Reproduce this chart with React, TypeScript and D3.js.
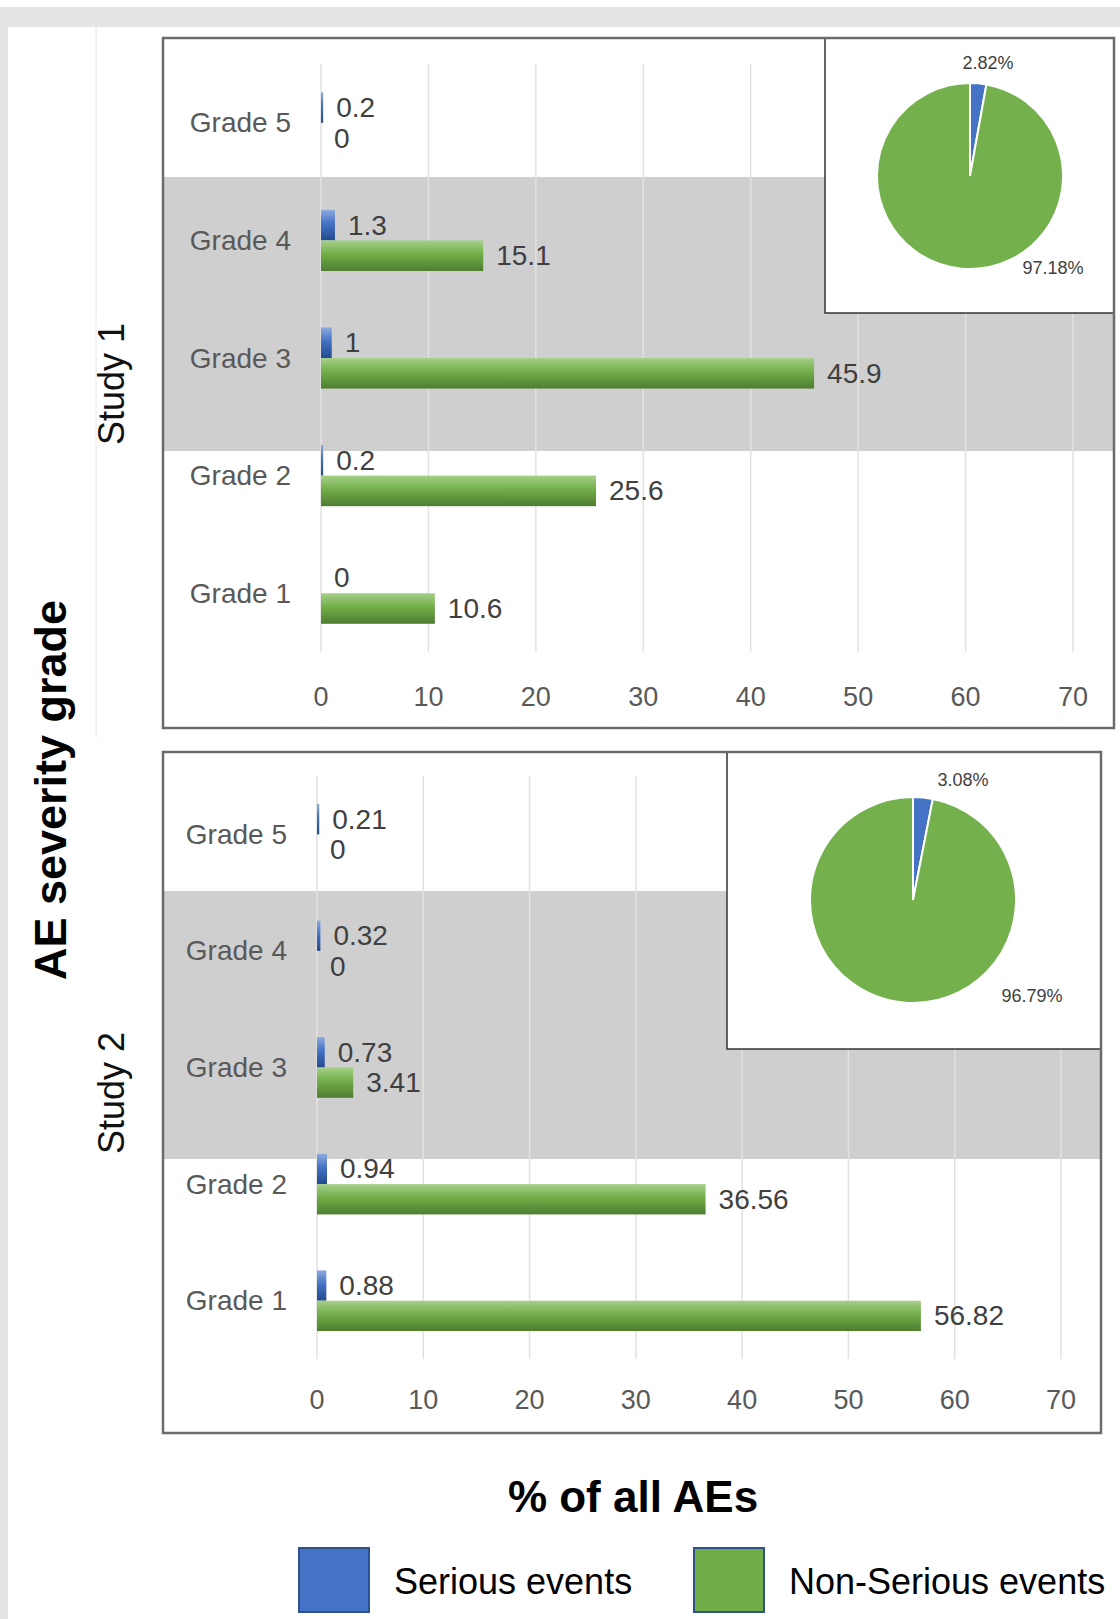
import React from 'react';
import * as d3 from 'd3';

// values
const grades = ['Grade 5', 'Grade 4', 'Grade 3', 'Grade 2', 'Grade 1'];
const seriesNames = ['Serious events', 'Non-Serious events'];
const study1Serious = [0.2, 1.3, 1, 0.2, 0];
const study1NonSerious = [0, 15.1, 45.9, 25.6, 10.6];
const study2Serious = [0.21, 0.32, 0.73, 0.94, 0.88];
const study2NonSerious = [0, 0, 3.41, 36.56, 56.82];
const study1Pie = [2.82, 97.18];
const study2Pie = [3.08, 96.79];
const xTicks = [0, 10, 20, 30, 40, 50, 60, 70];

const W = 1120;
const H = 1619;
const FONT = "'Liberation Sans', Arial, sans-serif";
const BLUE = '#4472c4';
const GREEN = '#70ad47';

interface PanelLayout {
	name: string;
	serious: number[];
	nonSerious: number[];
	pie: number[];
	box: { x: number; y: number; w: number; h: number };
	band: [number, number];
	inset: { x: number; y: number; w: number; h: number };
	xRange: [number, number];
	yRange: [number, number];
	tickY: number;
	pieAt: { cx: number; cy: number; r: number };
	pieLabels: [number, number][];
	studyY: number;
}

const panels: PanelLayout[] = [
	{
		name: 'Study 1',
		serious: study1Serious,
		nonSerious: study1NonSerious,
		pie: study1Pie,
		box: { x: 163, y: 38, w: 951, h: 690 },
		band: [177, 451],
		inset: { x: 825, y: 38, w: 289, h: 275 },
		xRange: [321, 1073],
		yRange: [64, 652],
		tickY: 697,
		pieAt: { cx: 970, cy: 176, r: 93 },
		pieLabels: [[18, -113], [83, 92]],
		studyY: 384,
	},
	{
		name: 'Study 2',
		serious: study2Serious,
		nonSerious: study2NonSerious,
		pie: study2Pie,
		box: { x: 163, y: 752, w: 938, h: 681 },
		band: [891, 1159],
		inset: { x: 727, y: 752, w: 374, h: 297 },
		xRange: [317, 1061],
		yRange: [776, 1359],
		tickY: 1400,
		pieAt: { cx: 913, cy: 900, r: 103 },
		pieLabels: [[50, -120], [119, 96]],
		studyY: 1093,
	},
];

const Panel: React.FC<{ p: PanelLayout }> = ({ p }) => {
	const x = d3.scaleLinear().domain([0, 70]).range(p.xRange);
	const y = d3.scaleBand().domain(grades).range(p.yRange);
	const pair = y.step() * 0.52;

	const pieGen = d3.pie<number>().sort(null).value(d => d);
	const arcs = pieGen(p.pie);
	const arc = d3.arc<d3.PieArcDatum<number>>().innerRadius(0).outerRadius(p.pieAt.r);

	return (
		<g>
			<rect x={p.box.x} y={p.box.y} width={p.box.w} height={p.box.h} fill="#fff" />
			<rect x={p.box.x} y={p.band[0]} width={p.box.w} height={p.band[1] - p.band[0]} fill="#d0cfd0" />
			{xTicks.map(t => (
				<line key={t} x1={x(t)} x2={x(t)} y1={p.yRange[0]} y2={p.yRange[1]} stroke="#e2e2e2" strokeWidth={1.5} />
			))}
			{xTicks.map(t => (
				<text key={'t' + t} x={x(t)} y={p.tickY} textAnchor="middle" dominantBaseline="central"
					fontSize={27} fill="#595959">{t}</text>
			))}
			{grades.map((g, i) => {
				const c = (y(g) as number) + y.bandwidth() / 2;
				const inner = d3.scaleBand().domain(seriesNames).range([c - pair / 2, c + pair / 2]);
				const vals = [p.serious[i], p.nonSerious[i]];
				return (
					<g key={g}>
						<text x={p.xRange[0] - 30} y={c} textAnchor="end" dominantBaseline="central"
							fontSize={28} fill="#595959">{g}</text>
						{vals.map((v, j) => {
							const yy = inner(seriesNames[j]) as number;
							const bh = inner.bandwidth();
							return (
								<g key={j}>
									{v > 0 && (
										<rect x={x(0)} y={yy} width={x(v) - x(0)} height={bh}
											fill={j === 0 ? 'url(#gBlue)' : 'url(#gGreen)'} />
									)}
									<text x={x(v) + 13} y={yy + bh / 2} dominantBaseline="central"
										fontSize={28} fill="#404040">{String(v)}</text>
								</g>
							);
						})}
					</g>
				);
			})}
			<rect x={p.inset.x} y={p.inset.y} width={p.inset.w} height={p.inset.h} fill="#fff"
				stroke="#333" strokeWidth={1.5} />
			<g transform={`translate(${p.pieAt.cx},${p.pieAt.cy})`}>
				{arcs.map((a, k) => (
					<path key={k} d={arc(a) as string} fill={k === 0 ? BLUE : '#74b04b'} stroke="#fff" strokeWidth={2} />
				))}
				{arcs.map((a, k) => (
					<text key={'l' + k} x={p.pieLabels[k][0]} y={p.pieLabels[k][1]} textAnchor="middle"
						dominantBaseline="central" fontSize={18} fill="#404040">{a.data.toFixed(2) + '%'}</text>
				))}
			</g>
			<rect x={p.box.x} y={p.box.y} width={p.box.w} height={p.box.h} fill="none"
				stroke="#6b6b6b" strokeWidth={2.5} />
			<text transform={`translate(111,${p.studyY}) rotate(-90)`} textAnchor="middle"
				dominantBaseline="central" fontSize={36} fill="#111">{p.name}</text>
		</g>
	);
};

export default function App() {
	return (
		<div style={{ position: 'absolute', left: 0, top: 0 }}>
			<svg width={W} height={H} style={{ display: 'block', fontFamily: FONT }}>
				<defs>
					<linearGradient id="gBlue" x1="0" y1="0" x2="0" y2="1">
						<stop offset="0%" stopColor="#8eaadf" />
						<stop offset="45%" stopColor="#4472c4" />
						<stop offset="100%" stopColor="#234a8f" />
					</linearGradient>
					<linearGradient id="gGreen" x1="0" y1="0" x2="0" y2="1">
						<stop offset="0%" stopColor="#a6d08a" />
						<stop offset="45%" stopColor="#72ae48" />
						<stop offset="100%" stopColor="#4e7d31" />
					</linearGradient>
				</defs>
				<rect x={0} y={0} width={W} height={H} fill="#fff" />
				<rect x={0} y={7} width={W} height={20} fill="#e4e4e4" />
				<rect x={0} y={7} width={8} height={H - 7} fill="#e4e4e4" />
				<line x1={96} x2={96} y1={27} y2={738} stroke="#e6e6e6" strokeWidth={1} />
				{panels.map(p => <Panel key={p.name} p={p} />)}
				<text transform="translate(50,790) rotate(-90)" textAnchor="middle" dominantBaseline="central"
					fontSize={45} fontWeight="bold" fill="#000">AE severity grade</text>
				<text x={633} y={1496} textAnchor="middle" dominantBaseline="central" fontSize={44}
					fontWeight="bold" fill="#000">% of all AEs</text>
				{seriesNames.map((s, i) => {
					const lx = [299, 694][i];
					return (
						<g key={s}>
							<rect x={lx} y={1548} width={70} height={64} fill={i === 0 ? BLUE : GREEN}
								stroke="#2f528f" strokeWidth={2} />
							<text x={lx + 95} y={1581} dominantBaseline="central" fontSize={36} fill="#000">{s}</text>
						</g>
					);
				})}
			</svg>
		</div>
	);
}
